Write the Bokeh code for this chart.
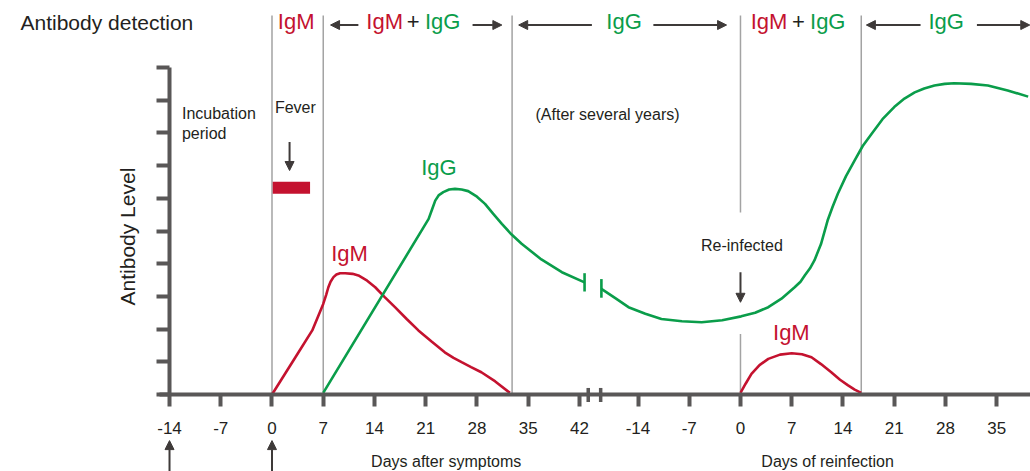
import math
from bokeh.plotting import figure
from bokeh.models import Label, Arrow, NormalHead, FixedTicker, Range1d
from bokeh.embed import file_html
from bokeh.resources import INLINE

# ---------------- data ----------------
first_ticks = [-14, -7, 0, 7, 14, 21, 28, 35, 42]
second_ticks = [-14, -7, 0, 7, 14, 21, 28, 35]
SEG2 = 64  # where the second (reinfection) day axis starts on the shared x scale

igm1_day = [0, 3.2, 5.5, 7.0, 7.4, 7.7, 8.0, 8.4, 8.8, 9.3, 10.0, 11.0, 11.8, 13.0, 14.1, 15.4, 16.8, 18.4,
            20.0, 21.8, 23.6, 24.8, 25.9, 27.2, 28.6, 30.5, 32.5]
igm1_lvl = [0.0, 1.14, 1.96, 2.77, 3.05, 3.28, 3.45, 3.59, 3.67, 3.71, 3.71, 3.69, 3.64, 3.48, 3.28, 2.98, 2.67, 2.31,
            1.96, 1.62, 1.29, 1.12, 0.99, 0.84, 0.68, 0.40, 0.05]

igg1_day = [7.0, 21.4, 21.9, 22.3, 22.8, 23.4, 24.2, 25.0, 25.9, 26.8, 28.0, 29.1, 30.2, 31.4, 32.7, 34.1, 36.8, 39.6, 42.7]
igg1_lvl = [0.05, 5.37, 5.68, 5.93, 6.10, 6.19, 6.27, 6.29, 6.27, 6.22, 6.05, 5.83, 5.53, 5.22, 4.90, 4.61, 4.13, 3.74, 3.43]

igg2_day = [-19.0, -17.0, -15.3, -13.0, -10.8, -8.0, -5.3, -2.5, 0.1, 2.0, 3.8, 5.6, 7.4, 8.2, 8.8, 9.5, 10.1, 11.0, 11.9,
            12.6, 13.3, 14.4, 15.6, 16.7, 17.9, 19.4, 21.0, 22.4, 23.8, 25.1, 26.5, 27.9, 29.2, 31.5, 33.8, 36.5, 39.3]
igg2_lvl = [3.23, 2.93, 2.67, 2.47, 2.31, 2.24, 2.21, 2.27, 2.39, 2.50, 2.67, 2.93, 3.28, 3.45, 3.65, 3.86, 4.10, 4.60, 5.32,
            5.75, 6.14, 6.67, 7.16, 7.60, 7.97, 8.42, 8.79, 9.05, 9.24, 9.36, 9.45, 9.50, 9.52, 9.50, 9.45, 9.30, 9.11]

igm2_day = [0, 0.7, 1.5, 2.6, 3.8, 5.4, 7.0, 8.4, 9.7, 11.0, 12.4, 13.6, 14.7, 15.6, 16.5]
igm2_lvl = [0.05, 0.33, 0.63, 0.90, 1.09, 1.22, 1.26, 1.23, 1.14, 0.93, 0.68, 0.45, 0.28, 0.15, 0.05]

phase_bounds = [0, 7, 32.8, SEG2 + 0, SEG2 + 16.5]

# ---------------- style ----------------
RED = "#c4122f"
GREEN = "#0a9d4a"
DARK = "#231f20"
AXIS = "#595757"
SEP = "#a3a3a3"
ARW = "#3e3a39"
FONT = "Liberation Sans"

X0, X1 = -37.09, 103.62
p = figure(width=1030, height=471, output_backend="svg", toolbar_location=None,
           x_range=Range1d(X0, X1), y_range=Range1d(-2.355, 12.05),
           min_border_left=0, min_border_right=0, min_border_top=0, min_border_bottom=0)
p.outline_line_color = None
p.grid.grid_line_color = None
p.background_fill_color = "white"
p.border_fill_color = "white"

# axes (placed inside the frame at fixed data locations)
ticks = first_ticks + [SEG2 + t for t in second_ticks]
labels = [str(t) for t in first_ticks] + [str(t) for t in second_ticks]
p.xaxis.fixed_location = 0
p.xaxis.bounds = (-15.4, X1)
p.xaxis.ticker = FixedTicker(ticks=ticks)
p.xaxis.major_label_overrides = {k: v for k, v in zip(ticks, labels)}
p.xaxis.axis_line_color = AXIS
p.xaxis.axis_line_width = 4
p.xaxis.major_tick_line_color = AXIS
p.xaxis.major_tick_line_width = 4
p.xaxis.major_tick_out = 12
p.xaxis.major_tick_in = 0
p.xaxis.minor_tick_line_color = None
p.xaxis.major_label_standoff = 16
p.xaxis.major_label_text_font = FONT
p.xaxis.major_label_text_font_size = "17px"
p.xaxis.major_label_text_color = DARK

yticks = list(range(0, 11))
p.yaxis.fixed_location = -14
p.yaxis.ticker = FixedTicker(ticks=yticks)
p.yaxis.bounds = (0, 10)
p.yaxis.major_label_overrides = {t: "" for t in yticks}
p.yaxis.axis_line_color = AXIS
p.yaxis.axis_line_width = 4
p.yaxis.major_tick_line_color = AXIS
p.yaxis.major_tick_line_width = 4
p.yaxis.major_tick_out = 13
p.yaxis.major_tick_in = 0
p.yaxis.minor_tick_line_color = None

# phase separators
top = 11.59
seg_x0 = [phase_bounds[0], phase_bounds[1], phase_bounds[2], phase_bounds[3], phase_bounds[3], phase_bounds[4]]
seg_y0 = [0, 0, 0, 0, 5.57, 0]
seg_y1 = [top, top, top, 1.85, top, top]
p.segment(x0=seg_x0, y0=seg_y0, x1=seg_x0, y1=seg_y1, line_color=SEP, line_width=1.5)

# curves
p.line(igm1_day, igm1_lvl, line_color=RED, line_width=2.6)
p.line(igg1_day, igg1_lvl, line_color=GREEN, line_width=2.6)
p.line([SEG2 + d for d in igg2_day], igg2_lvl, line_color=GREEN, line_width=2.6)
p.line([SEG2 + d for d in igm2_day], igm2_lvl, line_color=RED, line_width=2.6)

# break marks on IgG curve
bx = [igg1_day[-1], SEG2 + igg2_day[0]]
p.segment(x0=bx, y0=[igg1_lvl[-1] - 0.28, igg2_lvl[0] - 0.27], x1=bx,
          y1=[igg1_lvl[-1] + 0.28, igg2_lvl[0] + 0.30], line_color=GREEN, line_width=2.6)

# fever bar
p.quad(left=[0.1], right=[5.2], bottom=[6.14], top=[6.51], fill_color=RED, line_color=None)

# break marks on x axis
p.segment(x0=[43.2, 44.9], y0=[-0.23, -0.23], x1=[43.2, 44.9], y1=[0.2, 0.2],
          line_color=AXIS, line_width=3.5)


def lab(x, y, text, color=DARK, size=16, align="left", baseline="middle", angle=0):
    p.add_layout(Label(x=x, y=y, text=text, text_color=color, text_font=FONT, angle=angle,
                       text_font_size=f"{size}px", text_align=align, text_baseline=baseline))


def arrow(x0, y0, x1, y1, size=9):
    p.add_layout(Arrow(end=NormalHead(size=size, fill_color=ARW, line_color=ARW),
                       x_start=x0, y_start=y0, x_end=x1, y_end=y1,
                       line_color=ARW, line_width=2))


# y axis title
lab(-19.8, 4.83, "Antibody Level", size=21, align="center", angle=math.pi / 2)

# header row
HT = 11.41   # vertical middle of header texts
HA = 11.30   # header arrows
lab(-34.36, 11.38, "Antibody detection", size=21)
lab(0.8, HT, "IgM", RED, 22)
arrow(11.8, HA, 8.0, HA)
lab(17.9, HT, "IgM", RED, 22, "right")
lab(19.3, HT, "+", DARK, 22, "center")
lab(20.9, HT, "IgG", GREEN, 22, "left")
arrow(27.4, HA, 31.4, HA)
arrow(43.7, HA, 33.7, HA)
lab(48.1, HT, "IgG", GREEN, 22, "center")
arrow(52.1, HA, 62.1, HA)
lab(SEG2 + 6.4, HT, "IgM", RED, 22, "right")
lab(SEG2 + 7.9, HT, "+", DARK, 22, "center")
lab(SEG2 + 9.5, HT, "IgG", GREEN, 22, "left")
arrow(SEG2 + 24.6, HA, SEG2 + 17.2, HA)
lab(SEG2 + 28.1, HT, "IgG", GREEN, 22, "center")
arrow(SEG2 + 32.3, HA, X1 - 0.1, HA)

# annotations in plot
lab(-12.3, 8.59, "Incubation")
lab(-12.3, 7.98, "period")
lab(0.4, 8.77, "Fever")
arrow(2.4, 7.72, 2.4, 6.85)
lab(36.0, 8.56, "(After several years)")
lab(SEG2 + 0.2, 4.56, "Re-infected", align="center")
arrow(SEG2 + 0.0, 3.74, SEG2 + 0.0, 2.82)

lab(22.8, 6.94, "IgG", GREEN, 22, "center")
lab(10.6, 4.30, "IgM", RED, 22, "center")
lab(SEG2 + 6.95, 1.90, "IgM", RED, 22, "center")

# below axis
lab(23.8, -2.05, "Days after symptoms", align="center")
lab(SEG2 + 11.9, -2.05, "Days of reinfection", align="center")
arrow(-14, -2.355, -14, -1.41)
arrow(0, -2.355, 0, -1.41)

open("out.html", "w").write(file_html(p, INLINE))
